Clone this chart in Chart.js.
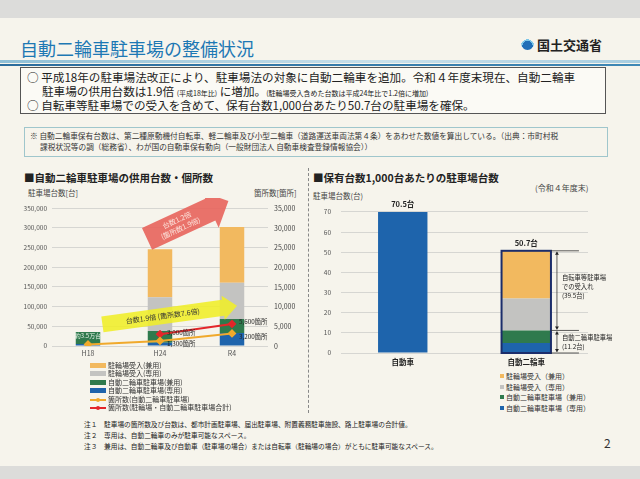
<!DOCTYPE html>
<html lang="ja">
<head>
<meta charset="utf-8">
<script src="https://cdn.jsdelivr.net/npm/chart.js@4.4.0/dist/chart.umd.min.js"></script>
<style>
  html, body { margin: 0; padding: 0; }
  body { width: 640px; height: 479px; background: #dcdcda; position: relative; overflow: hidden;
         font-family: "Noto Sans CJK JP", "Noto Sans", sans-serif; color: #222; }
  #page { position: absolute; left: 0; top: 18px; width: 640px; height: 448px; background: #f6f4ec; }
  .abs { position: absolute; white-space: nowrap; }
  #title { left: 20px; top: 35px; font-size: 18px; color: #1d78b4; }
  #band { left: 0; top: 60px; width: 640px; height: 3px; background: linear-gradient(to right, #8fbfd6, #c9e0ea 60%, #a7cde0); }
  #band2 { left: 0; top: 64px; width: 640px; height: 2px; background: linear-gradient(to right, #2b6c9c, #3f88b5); }
  #logo { left: 537px; top: 35px; font-size: 13px; font-weight: bold; color: #222; }
  #logoIcon { left: 521px; top: 37px; width: 13px; height: 13px; border-radius: 50%;
              background: radial-gradient(circle at 50% 70%, #1f6fb8 45%, #7cc6e8 46%, #7cc6e8 60%, #f6f4ec 61%); }
  #box { left: 20px; top: 67px; width: 584px; height: 45px; border: 1px solid #555; background: #fbfaf5; }
  .boxline { font-size: 11.6px; color: #222; }
  .small { font-size: 7px; }
  #note { left: 24px; top: 127px; width: 582px; height: 28px; border: 1px solid #9fc6cc; }
  .note { font-size: 7.7px; color: #333; }
  .ctitle { font-size: 10.5px; font-weight: bold; color: #222; }
  .axt { font-size: 7.5px; color: #444; }
  #sep { left: 308px; top: 168px; width: 0; height: 245px; border-left: 1px dashed #888; }
  .leg { font-size: 7px; color: #333; }
  .foot { font-size: 6.7px; color: #222; }
  canvas { position: absolute; }
</style>
</head>
<body>
<div id="page"></div>
<div class="abs" id="title">自動二輪車駐車場の整備状況</div>
<div class="abs" id="logoIcon"></div>
<div class="abs" id="logo">国土交通省</div>
<div class="abs" id="band"></div>
<div class="abs" id="band2"></div>
<div class="abs" id="box"></div>
<div class="abs boxline" style="left:27px;top:69px;">○ 平成18年の駐車場法改正により、駐車場法の対象に自動二輪車を追加。令和４年度末現在、自動二輪車</div>
<div class="abs boxline" style="left:42px;top:83px;">駐車場の供用台数は1.9倍 <span class="small">(平成18年比)</span> に増加。<span class="small">(駐輪場受入含めた台数は平成24年比で1.2倍に増加)</span></div>
<div class="abs boxline" style="left:27px;top:97px;">○ 自転車等駐車場での受入を含めて、保有台数1,000台あたり50.7台の駐車場を確保。</div>
<div class="abs" id="note"></div>
<div class="abs note" style="left:30px;top:130px;">※ 自動二輪車保有台数は、第二種原動機付自転車、軽二輪車及び小型二輪車（道路運送車両法第４条）をあわせた数値を算出している。（出典：市町村税</div>
<div class="abs note" style="left:40px;top:141px;">課税状況等の調（総務省）、わが国の自動車保有動向（一般財団法人 自動車検査登録情報協会））</div>

<div class="abs ctitle" style="left:24px;top:170px;">■自動二輪車駐車場の供用台数・個所数</div>
<div class="abs axt" style="left:28px;top:187px;">駐車場台数[台]</div>
<div class="abs axt" style="left:254px;top:187px;">箇所数[箇所]</div>
<div class="abs" id="sep"></div>
<div class="abs ctitle" style="left:313px;top:170px;">■保有台数1,000台あたりの駐車場台数</div>
<div class="abs axt" style="left:535px;top:182px;font-size:8px;">(令和４年度末)</div>
<div class="abs axt" style="left:313px;top:190px;">駐車場台数(台)</div>

<canvas id="left" width="286" height="166" style="left:16px;top:198px;width:286px;height:166px;"></canvas>
<canvas id="right" width="320" height="173" style="left:310px;top:198px;width:320px;height:173px;"></canvas>

<div id="legL"></div>
<div id="legR"></div>

<div class="abs foot" style="left:84px;top:419px;">注１　駐車場の箇所数及び台数は、都市計画駐車場、届出駐車場、附置義務駐車施設、路上駐車場の合計値。</div>
<div class="abs foot" style="left:84px;top:430px;">注２　専用は、自動二輪車のみが駐車可能なスペース。</div>
<div class="abs foot" style="left:84px;top:441px;">注３　兼用は、自動二輪車及び自動車（駐車場の場合）または自転車（駐輪場の場合）がともに駐車可能なスペース。</div>
<div class="abs" style="left:604px;top:434px;font-size:12px;color:#333;">2</div>

<script>
// ---- left chart data ----
var years = ['H18', 'H24', 'R4'];
var motoDedicated = [5000, 8000, 33000];     // 自動二輪車駐車場(専用)
var motoShared = [30500, 30000, 35500];      // 自動二輪車駐車場(兼用)
var bikeDedicated = [0, 86000, 92000];       // 駐輪場受入(専用)
var bikeShared = [0, 122000, 142000];        // 駐輪場受入(兼用)
var sitesMoto = [400, 1300, 3200];           // 箇所数(自動二輪車駐車場)
var sitesTotal = [null, 3000, 5600];         // 箇所数(駐輪場・自動二輪車駐車場合計)

// ---- right chart data ----
var vehicles = ['自動車', '自動二輪車'];
var carPer1000 = [70.5, null];
var motoDedPer = [null, 5.0];
var motoShPer = [null, 6.2];
var bikeDedPer = [null, 15.8];
var bikeShPer = [null, 23.7];

var C_ORANGE = '#f2b95f', C_GRAY = '#c3c3c1', C_GREEN = '#2f7a4d', C_BLUE = '#1e64ac', C_RED = '#e3262a', C_LINE = '#f0a92c';
var FONT = '"Noto Sans CJK JP", sans-serif';

function fmt(n) { return n.toLocaleString('en-US'); }

// legends
function legend(el, left, top, step, items) {
	var html = '';
	items.forEach(function(it, i) {
		var y = top + i * step;
		if (it.line) {
			html += '<div class="abs" style="left:' + left + 'px;top:' + (y + 3) + 'px;width:16px;height:2px;background:' + it.color + '"></div>';
			html += '<div class="abs" style="left:' + (left + 6) + 'px;top:' + (y + 2) + 'px;width:4px;height:4px;border-radius:2px;background:' + it.color + '"></div>';
		} else {
			html += '<div class="abs" style="left:' + left + 'px;top:' + (y + 1) + 'px;width:' + it.w + 'px;height:' + it.h + 'px;background:' + it.color + '"></div>';
		}
		html += '<div class="abs leg" style="left:' + (left + it.tx) + 'px;top:' + (y - 2) + 'px;">' + it.label + '</div>';
	});
	document.getElementById(el).innerHTML = html;
}
legend('legL', 90, 362, 8.4, [
	{ color: C_ORANGE, w: 16, h: 5, tx: 18, label: '駐輪場受入(兼用)' },
	{ color: C_GRAY, w: 16, h: 5, tx: 18, label: '駐輪場受入(専用)' },
	{ color: C_GREEN, w: 16, h: 5, tx: 18, label: '自動二輪車駐車場(兼用)' },
	{ color: C_BLUE, w: 16, h: 5, tx: 18, label: '自動二輪車駐車場(専用)' },
	{ color: C_LINE, line: true, tx: 18, label: '箇所数(自動二輪車駐車場)' },
	{ color: C_RED, line: true, tx: 18, label: '箇所数(駐輪場・自動二輪車駐車場合計)' }
]);
legend('legR', 500, 373, 10.5, [
	{ color: C_ORANGE, w: 4, h: 4, tx: 6, label: '駐輪場受入（兼用）' },
	{ color: C_GRAY, w: 4, h: 4, tx: 6, label: '駐輪場受入（専用）' },
	{ color: C_GREEN, w: 4, h: 4, tx: 6, label: '自動二輪車駐車場（兼用）' },
	{ color: C_BLUE, w: 4, h: 4, tx: 6, label: '自動二輪車駐車場（専用）' }
]);

// fat arrow between two points, with text along it
function fatArrow(ctx, x1, y1, x2, y2, half, headHalf, headLen, fill, text, textColor, fontSize) {
	var ang = Math.atan2(y2 - y1, x2 - x1);
	var len = Math.hypot(x2 - x1, y2 - y1);
	ctx.save();
	ctx.translate(x1, y1);
	ctx.rotate(ang);
	ctx.beginPath();
	ctx.moveTo(0, -half);
	ctx.lineTo(len - headLen, -half);
	ctx.lineTo(len - headLen, -headHalf);
	ctx.lineTo(len, 0);
	ctx.lineTo(len - headLen, headHalf);
	ctx.lineTo(len - headLen, half);
	ctx.lineTo(0, half);
	ctx.closePath();
	ctx.fillStyle = fill;
	ctx.fill();
	ctx.fillStyle = textColor;
	ctx.font = fontSize + 'px ' + FONT;
	ctx.textAlign = 'center';
	ctx.textBaseline = 'middle';
	var lines = text.split('\n');
	lines.forEach(function(t, i) {
		ctx.fillText(t, (len - headLen) / 2, (i - (lines.length - 1) / 2) * (fontSize + 2));
	});
	ctx.restore();
}

var leftDeco = {
	id: 'leftDeco',
	afterDatasetsDraw: function(chart) {
		var ctx = chart.ctx, x = chart.scales.x, y = chart.scales.y;
		// arrows
		fatArrow(ctx, x.getPixelForValue(0.82), y.getPixelForValue(272000), x.getPixelForValue(1.95), y.getPixelForValue(368000),
			12, 20, 20, 'rgba(232,100,92,0.9)', '台数1.2倍\n(箇所数1.9倍)', '#fbe3dc', 7);
		fatArrow(ctx, x.getPixelForValue(0.2), y.getPixelForValue(55000), x.getPixelForValue(2.07), y.getPixelForValue(102000),
			8, 12, 14, 'rgba(240,238,40,0.88)', '台数1.9倍 (箇所数7.6倍)', '#333', 7);
		// H18 bar label
		var b = chart.getDatasetMeta(1).data[0];
		ctx.save();
		ctx.font = '6px ' + FONT;
		ctx.fillStyle = '#e8f3e8';
		ctx.textAlign = 'center';
		ctx.textBaseline = 'middle';
		ctx.fillText('約3.5万台', b.x, b.y + 4);
		// point labels
		ctx.fillStyle = '#222';
		ctx.textAlign = 'left';
		ctx.font = '6.3px ' + FONT;
		[[4, sitesTotal], [5, sitesMoto]].forEach(function(d) {
			var meta = chart.getDatasetMeta(d[0]);
			[1, 2].forEach(function(i) {
				var p = meta.data[i];
				var dy = d[0] === 4 ? -2 : 3;
				ctx.fillText(fmt(d[1][i]) + '箇所', p.x + 7, p.y + dy);
			});
		});
		ctx.restore();
	}
};

new Chart(document.getElementById('left').getContext('2d'), {
	type: 'bar',
	data: {
		labels: years,
		datasets: [
			{ label: '自動二輪車駐車場(専用)', data: motoDedicated, backgroundColor: C_BLUE, order: 3 },
			{ label: '自動二輪車駐車場(兼用)', data: motoShared, backgroundColor: C_GREEN, order: 3 },
			{ label: '駐輪場受入(専用)', data: bikeDedicated, backgroundColor: C_GRAY, order: 3 },
			{ label: '駐輪場受入(兼用)', data: bikeShared, backgroundColor: C_ORANGE, order: 3 },
			{ type: 'line', label: '箇所数(駐輪場・自動二輪車駐車場合計)', data: sitesTotal, yAxisID: 'y1', borderColor: C_RED, backgroundColor: C_RED,
				borderWidth: 2, pointRadius: 3, pointStyle: 'rectRot', order: 1 },
			{ type: 'line', label: '箇所数(自動二輪車駐車場)', data: sitesMoto, yAxisID: 'y1', borderColor: C_LINE, backgroundColor: C_LINE,
				borderWidth: 2, pointRadius: 3, pointStyle: 'rectRot', order: 0 }
		]
	},
	options: {
		responsive: false,
		animation: false,
		layout: { padding: { top: 10, right: 0, left: 0, bottom: 0 } },
		plugins: { legend: { display: false }, tooltip: { enabled: false } },
		datasets: { bar: { barPercentage: 0.34, categoryPercentage: 1 } },
		scales: {
			x: {
				stacked: true,
				grid: { display: false, drawTicks: false },
				border: { display: false },
				ticks: { font: { size: 7, family: FONT }, color: '#555', padding: 3 },
				afterFit: function(s) { s.height = 18; }
			},
			y: {
				stacked: true,
				min: 0, max: 350000,
				ticks: { stepSize: 50000, font: { size: 6.5, family: FONT }, color: '#555', padding: 5, callback: function(v) { return fmt(v); } },
				grid: { color: '#d6d6d2', lineWidth: 1, drawTicks: false },
				border: { display: false },
				afterFit: function(s) { s.width = 36; }
			},
			y1: {
				position: 'right',
				stacked: false,
				min: 0, max: 35000,
				ticks: { stepSize: 5000, font: { size: 7, family: FONT }, color: '#444', padding: 6, callback: function(v) { return fmt(v); } },
				grid: { display: false, drawTicks: false },
				border: { display: false },
				afterFit: function(s) { s.width = 34; }
			}
		}
	},
	plugins: [leftDeco]
});

var rightDeco = {
	id: 'rightDeco',
	afterDatasetsDraw: function(chart) {
		var ctx = chart.ctx, y = chart.scales.y;
		var moto = motoDedPer[1] + motoShPer[1];
		var bike = bikeDedPer[1] + bikeShPer[1];
		var total = moto + bike;
		var bar = chart.getDatasetMeta(1).data[1];
		var car = chart.getDatasetMeta(0).data[0];
		var half = bar.width / 2;
		var yT = y.getPixelForValue(total), yM = y.getPixelForValue(moto), y0 = y.getPixelForValue(0);
		ctx.save();
		// outline of stacked bar
		ctx.strokeStyle = '#1b2d6b';
		ctx.lineWidth = 2;
		ctx.strokeRect(bar.x - half, yT, half * 2, y0 - yT);
		// value labels
		ctx.fillStyle = '#222';
		ctx.font = 'bold 7.5px ' + FONT;
		ctx.textAlign = 'center';
		ctx.fillText(carPer1000[0].toFixed(1) + '台', car.x, y.getPixelForValue(carPer1000[0]) - 4);
		ctx.fillText(total.toFixed(1) + '台', bar.x, yT - 5);
		// bracket lines
		ctx.strokeStyle = '#333';
		ctx.lineWidth = 0.8;
		var xr = bar.x + half, xa = xr + 6;
		[yT, yM, y0].forEach(function(py) {
			ctx.beginPath(); ctx.moveTo(xr, py); ctx.lineTo(xr + 28, py); ctx.stroke();
		});
		function vArrow(a, b) {
			ctx.beginPath(); ctx.moveTo(xa, a + 1); ctx.lineTo(xa, b - 1); ctx.stroke();
			ctx.beginPath(); ctx.moveTo(xa - 2, a + 4); ctx.lineTo(xa, a + 1); ctx.lineTo(xa + 2, a + 4); ctx.closePath(); ctx.fill();
			ctx.beginPath(); ctx.moveTo(xa - 2, b - 4); ctx.lineTo(xa, b - 1); ctx.lineTo(xa + 2, b - 4); ctx.closePath(); ctx.fill();
		}
		ctx.fillStyle = '#222';
		vArrow(yT, yM);
		vArrow(yM, y0);
		ctx.font = '6.3px ' + FONT;
		ctx.textAlign = 'left';
		ctx.textBaseline = 'middle';
		var ym = y.getPixelForValue(moto + bike * 0.55);
		ctx.fillText('自転車等駐車場', xa + 5, ym - 9);
		ctx.fillText('での受入れ', xa + 5, ym);
		ctx.fillText('(' + bike.toFixed(1) + '台)', xa + 5, ym + 9);
		ctx.fillText('自動二輪車駐車場', xa + 5, (yM + y0) / 2 - 4);
		ctx.fillText('(' + moto.toFixed(1) + '台)', xa + 5, (yM + y0) / 2 + 5);
		ctx.restore();
	}
};

new Chart(document.getElementById('right').getContext('2d'), {
	type: 'bar',
	data: {
		labels: vehicles,
		datasets: [
			{ label: '自動車', data: carPer1000, backgroundColor: C_BLUE },
			{ label: '自動二輪車駐車場(専用)', data: motoDedPer, backgroundColor: C_BLUE },
			{ label: '自動二輪車駐車場(兼用)', data: motoShPer, backgroundColor: C_GREEN },
			{ label: '駐輪場受入(専用)', data: bikeDedPer, backgroundColor: C_GRAY },
			{ label: '駐輪場受入(兼用)', data: bikeShPer, backgroundColor: C_ORANGE }
		]
	},
	options: {
		responsive: false,
		animation: false,
		layout: { padding: { top: 10, right: 42, left: 0, bottom: 0 } },
		plugins: { legend: { display: false }, tooltip: { enabled: false } },
		datasets: { bar: { barPercentage: 0.4, categoryPercentage: 1 } },
		scales: {
			x: {
				stacked: true,
				grid: { display: false, drawTicks: false },
				border: { display: false },
				ticks: { font: { size: 7.5, weight: 'bold', family: FONT }, color: '#222', padding: 5 },
				afterFit: function(s) { s.height = 18; }
			},
			y: {
				stacked: true,
				min: 0, max: 70,
				ticks: { stepSize: 10, font: { size: 6.5, family: FONT }, color: '#555', padding: 10 },
				grid: { color: '#d6d6d2', lineWidth: 1, drawTicks: false },
				border: { display: false },
				afterFit: function(s) { s.width = 31; }
			}
		}
	},
	plugins: [rightDeco]
});
</script>
</body>
</html>
